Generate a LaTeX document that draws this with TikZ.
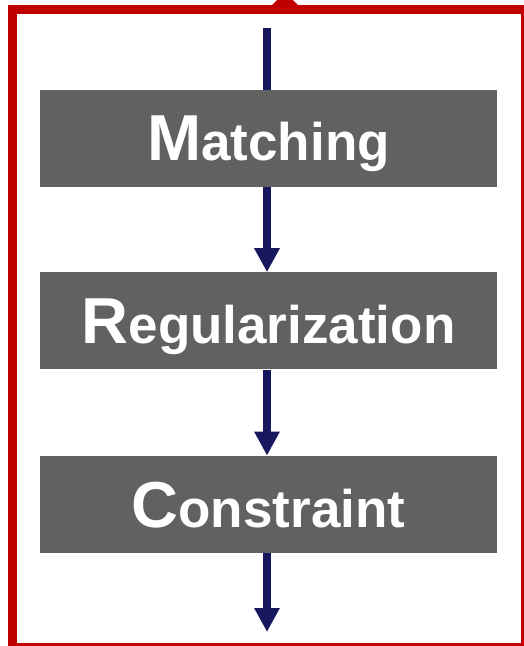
\documentclass[tikz,border=0pt]{standalone}
\usepackage{fontspec}
\setmainfont{Liberation Sans}
\usetikzlibrary{arrows.meta,positioning}
\definecolor{framered}{RGB}{192,0,0}
\definecolor{boxgray}{RGB}{97,97,97}
\definecolor{flownavy}{RGB}{24,24,94}
\newcommand{\capword}[2]{{\fontsize{65}{65}\selectfont #1}{\fontsize{53}{53}\selectfont #2}}
\tikzset{
  stagebox/.style={fill=boxgray, text=white, font=\bfseries, minimum width=457pt, minimum height=97pt, inner sep=0pt, text depth=0pt},
  flow/.style={flownavy, line width=8pt, -{Triangle[length=24pt,width=24pt]}},
}

\begin{document}
\begin{tikzpicture}[x=1pt,y=-1pt]
			\useasboundingbox (0,0) rectangle (524,646);
			\clip (0,0) rectangle (524,646);
			\draw[framered, line width=9pt] (12.5,9.5) rectangle (525.5,647.5);
			\fill[framered] (272,5) -- (298,5) -- (285,-8) -- cycle;
			\node[stagebox] (match) at (268.5,138.5) {\capword{M}{atching}};
			\node[stagebox, below=85pt of match] (regul) {\capword{R}{egularization}};
			\node[stagebox, below=86pt of regul] (constr) {\capword{C}{onstraint}};
			\coordinate (start) at (267,28);
			\coordinate (stop) at (267,632);
%			arrows
			\draw[flownavy, line width=8pt] (start) -- (start |- match.north);
			\draw[flow] (start |- match.south) -- (start |- regul.north);
			\draw[flow] (start |- regul.south) -- (start |- constr.north);
			\draw[flow] (start |- constr.south) -- (stop);
		\end{tikzpicture}
\end{document}
